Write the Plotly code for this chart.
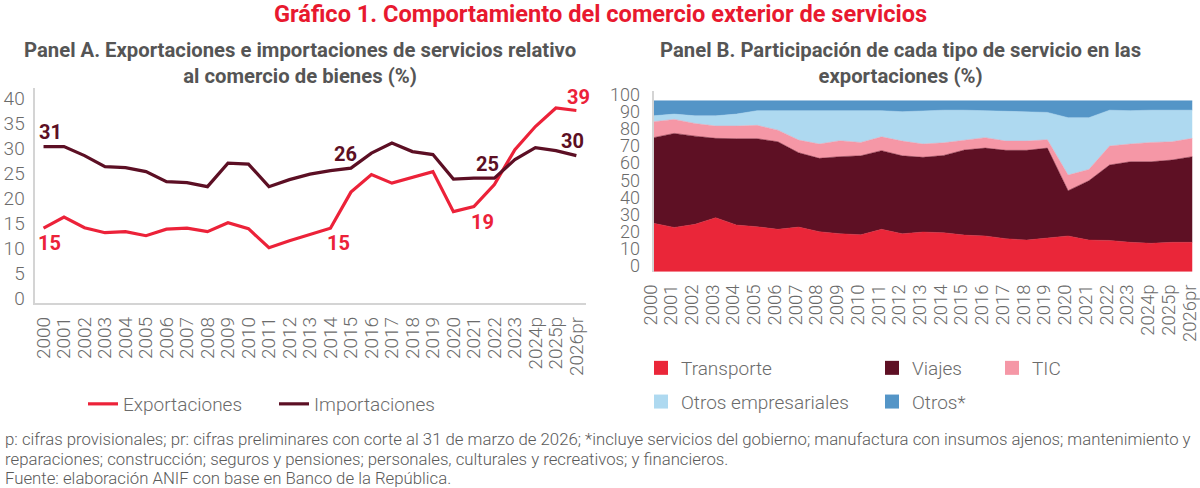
import plotly.graph_objects as go

# ---------------- data ----------------
years = ["2000", "2001", "2002", "2003", "2004", "2005", "2006", "2007", "2008",
         "2009", "2010", "2011", "2012", "2013", "2014", "2015", "2016", "2017",
         "2018", "2019", "2020", "2021", "2022", "2023", "2024p", "2025p", "2026pr"]

# Panel A (% of goods trade)
exportaciones = [15.0, 17.2, 15.1, 14.1, 14.3, 13.5, 14.8, 15.0, 14.3, 16.1, 14.9, 11.1, 12.5,
                 13.7, 15.0, 22.2, 25.7, 24.0, 25.1, 26.3, 18.3, 19.3, 23.7, 30.7, 35.3, 39.0, 38.5]
importaciones = [31.3, 31.3, 29.5, 27.3, 27.1, 26.3, 24.3, 24.1, 23.3, 28.0, 27.8, 23.3, 24.7,
                 25.8, 26.5, 27.0, 30.0, 32.0, 30.3, 29.7, 24.8, 25.0, 25.0, 28.7, 31.1, 30.5, 29.5]

exp_label_idx = [0, 14, 21, 26]
exp_label_txt = ["15", "15", "19", "39"]
imp_label_idx = [0, 15, 22, 26]
imp_label_txt = ["31", "26", "25", "30"]

# Panel B (% share of service exports)
transporte = [28.3, 25.9, 27.7, 31.6, 27.3, 26.3, 24.8, 26.1, 23.4, 22.2, 21.6, 24.8, 22.2,
              23.2, 22.8, 21.4, 20.9, 19.3, 18.5, 19.7, 20.9, 18.5, 18.3, 17.2, 16.6, 17.2, 17.2]
viajes = [50.1, 55.0, 51.6, 46.4, 50.5, 51.5, 51.2, 43.5, 42.9, 45.1, 46.2, 46.0, 45.6,
          43.7, 45.2, 49.8, 51.4, 51.7, 52.5, 52.6, 26.5, 34.7, 44.1, 47.1, 47.7, 48.1, 50.1]
tic = [9.3, 8.2, 7.4, 7.2, 7.4, 7.8, 6.8, 7.4, 8.4, 9.3, 7.8, 8.1, 8.6,
       7.8, 7.4, 5.8, 6.1, 5.4, 5.4, 4.9, 9.1, 6.6, 11.1, 10.4, 11.3, 10.7, 10.7]
otros_empresariales = [3.5, 3.1, 4.5, 6.0, 7.0, 8.6, 11.4, 17.2, 19.6, 17.9, 18.9, 15.3, 17.2,
                       19.5, 19.1, 17.5, 15.8, 17.2, 16.8, 16.0, 33.6, 30.3, 21.0, 19.5, 18.9, 18.5, 16.5]
otros = [8.8, 7.8, 8.8, 8.8, 7.8, 5.8, 5.8, 5.8, 5.7, 5.5, 5.5, 5.8, 6.4,
         5.8, 5.5, 5.5, 5.8, 6.4, 6.8, 6.8, 9.9, 9.9, 5.5, 5.8, 5.5, 5.5, 5.5]

# ---------------- style ----------------
W, H = 1200, 488
RED = "#EC2239"
DARK = "#5C0F24"
C_TRANS = "#EA2639"
C_VIAJ = "#5E1024"
C_TIC = "#F597A6"
C_OEMP = "#AED9F0"
C_OTROS = "#5495C7"
GRAY = "#6b6b6b"
TITLE_GRAY = "#555555"
AXIS = "#d4d4d4"
FONT = "Roboto"
TICKFONT = dict(family=FONT, size=19, color=GRAY, weight=300)
TICKFONT_BX = dict(family=FONT, size=18.5, color=GRAY, weight=300)
TICKFONT_B = dict(family=FONT, size=18, color=GRAY, weight=300)


def px(x):
    return x / W


def py(y):
    return 1 - y / H


fig = go.Figure()

# Panel A lines
fig.add_trace(go.Scatter(x=years, y=exportaciones, name="Exportaciones", mode="lines",
                         line=dict(color=RED, width=3.2), xaxis="x", yaxis="y",
                         legend="legend"))
fig.add_trace(go.Scatter(x=years, y=importaciones, name="Importaciones", mode="lines",
                         line=dict(color=DARK, width=3.2), xaxis="x", yaxis="y",
                         legend="legend"))

# Panel B stacked areas
series_b = [("Transporte", transporte, C_TRANS), ("Viajes", viajes, C_VIAJ),
            ("TIC", tic, C_TIC), ("Otros empresariales", otros_empresariales, C_OEMP),
            ("Otros*", otros, C_OTROS)]
for name, vals, col in series_b:
    fig.add_trace(go.Scatter(x=years, y=vals, name=name, mode="lines", stackgroup="b",
                             line=dict(color=col, width=0.5), fillcolor=col,
                             xaxis="x2", yaxis="y2", showlegend=False))

# Legend entries for panel B (square swatches)
legend_map = {"Transporte": "legend2", "Otros empresariales": "legend2",
              "Viajes": "legend3", "Otros*": "legend3", "TIC": "legend4"}
for name, vals, col in series_b:
    fig.add_trace(go.Scatter(x=[None], y=[None], name=name, mode="markers",
                             marker=dict(symbol="square", size=14, color=col),
                             xaxis="x2", yaxis="y2", legend=legend_map[name],
                             legendgroup=name))

# Data labels (x given as category index)
annotations = []
exp_shift = [(6, -15), (8, -15), (9, -15), (2, 14)]
for (i, t), (dx, dy) in zip(zip(exp_label_idx, exp_label_txt), exp_shift):
    annotations.append(dict(x=i, y=exportaciones[i], xref="x", yref="y", text=t,
                            showarrow=False, xshift=dx, yshift=dy,
                            font=dict(family=FONT, size=20, color=RED, weight=700)))
imp_shift = [(7, 15), (-5, 14), (-7, 14), (-4, 15)]
for (i, t), (dx, dy) in zip(zip(imp_label_idx, imp_label_txt), imp_shift):
    annotations.append(dict(x=i, y=importaciones[i], xref="x", yref="y", text=t,
                            showarrow=False, xshift=dx, yshift=dy,
                            font=dict(family=FONT, size=20, color=DARK, weight=700)))

# Titles
annotations.append(dict(text="Gráfico 1. Comportamiento del comercio exterior de servicios",
                        x=0.5, y=py(14), xref="paper", yref="paper", showarrow=False,
                        xanchor="center", yanchor="middle",
                        font=dict(family=FONT, size=23.6, color="#E8192F", weight=700)))
annotations.append(dict(text="Panel A. Exportaciones e importaciones de servicios relativo<br>al comercio de bienes (%)",
                        x=px(300), y=py(63), xref="paper", yref="paper", showarrow=False,
                        xanchor="center", yanchor="middle", align="center",
                        font=dict(family=FONT, size=20.3, color=TITLE_GRAY, weight=700)))
annotations.append(dict(text="Panel B. Participación de cada tipo de servicio en las<br>exportaciones (%)",
                        x=px(900), y=py(63), xref="paper", yref="paper", showarrow=False,
                        xanchor="center", yanchor="middle", align="center",
                        font=dict(family=FONT, size=20.3, color=TITLE_GRAY, weight=700)))
# Footnotes
notes = ["p: cifras provisionales; pr: cifras preliminares con corte al 31 de marzo de 2026; *incluye servicios del gobierno; manufactura con insumos ajenos; mantenimiento y",
         "reparaciones; construcción; seguros y pensiones; personales, culturales y recreativos; y financieros.",
         "Fuente: elaboración ANIF con base en Banco de la República."]
for t, yy in zip(notes, [439, 459, 478]):
    annotations.append(dict(text=t, x=px(3), y=py(yy), xref="paper", yref="paper",
                            showarrow=False, xanchor="left", yanchor="middle",
                            font=dict(family=FONT, size=16.75, color="#5a5a5a", weight=300)))

legend_font = dict(family=FONT, size=19, color=GRAY, weight=300)

fig.update_layout(
    width=W, height=H,
    margin=dict(l=0, r=0, t=0, b=0),
    paper_bgcolor="white", plot_bgcolor="white",
    annotations=annotations,
    xaxis=dict(domain=[px(34.5), px(586)], type="category", range=[-0.44, 26.47],
               tickmode="array", tickvals=years, ticktext=years, automargin=False,
               showgrid=False, zeroline=False, showline=True, linecolor=AXIS, linewidth=2,
               ticks="", tickangle=-90, tickfont=TICKFONT, ticklabelstandoff=4, anchor="y"),
    yaxis=dict(domain=[py(303.3), py(88)], range=[0, 43], tickvals=list(range(0, 45, 5)),
               automargin=False,
               showgrid=False, zeroline=False, showline=True, linecolor=AXIS, linewidth=2,
               ticks="", tickfont=TICKFONT, ticklabelshift=-5, ticklabelstandoff=4, anchor="x"),
    xaxis2=dict(domain=[px(653.5), px(1192.5)], type="category", range=[0, 26],
                tickmode="array", tickvals=years, ticktext=years, automargin=False,
                showgrid=False, zeroline=False, showline=False,
                ticks="", tickangle=-90, tickfont=TICKFONT_BX, ticklabelstandoff=8,
                ticklabelshift=-3, anchor="y2"),
    yaxis2=dict(domain=[py(271.7), py(90.5)], range=[0, 106], tickvals=list(range(0, 101, 10)),
                automargin=False,
                showgrid=False, zeroline=False, showline=True, linecolor=AXIS, linewidth=2,
                ticks="", tickfont=TICKFONT_B, ticklabelshift=-6, ticklabelstandoff=8, anchor="x2"),
    legend=dict(orientation="h", x=px(83), y=py(404), xanchor="left", yanchor="middle",
                font=legend_font, entrywidth=146, traceorder="normal",
                bgcolor="rgba(0,0,0,0)"),
    legend2=dict(orientation="v", x=px(641), y=py(349), xanchor="left", yanchor="top",
                 font=legend_font, traceorder="grouped", tracegroupgap=6,
                 bgcolor="rgba(0,0,0,0)"),
    legend3=dict(orientation="v", x=px(872), y=py(349), xanchor="left", yanchor="top",
                 font=legend_font, traceorder="grouped", tracegroupgap=6,
                 bgcolor="rgba(0,0,0,0)"),
    legend4=dict(orientation="v", x=px(992), y=py(349), xanchor="left", yanchor="top",
                 font=legend_font, traceorder="grouped", tracegroupgap=6,
                 bgcolor="rgba(0,0,0,0)"),
)

fig.write_html("out.html", config={"displayModeBar": False},
               post_script="document.body.style.margin='0';")
